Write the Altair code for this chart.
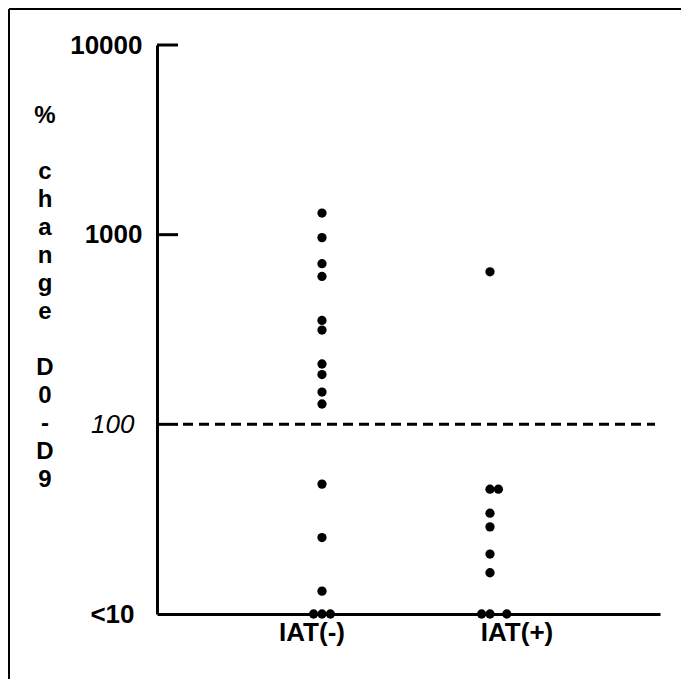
import altair as alt
import pandas as pd

# ---- data ----
groups = ["IAT(-)", "IAT(+)"]
# values plotted as 10 are the "<10" category on the axis
neg_values = [1300, 965, 703, 602, 353, 314, 208, 183, 148, 128, 48.4, 25.3, 13.2, 10, 10, 10]
neg_slot = [0, 0, 0, 0, 0, 0, 0, 0, 0, 0, 0, 0, 0, -1, 0, 1]
pos_values = [637, 45.5, 45.5, 34, 28.8, 20.7, 16.5, 10, 10, 10]
pos_slot = [0, 0, 1, 0, 0, 0, 0, -1, 0, 2]
tick_values = [10, 100, 1000, 10000]
inner_ticks = [100, 1000, 10000]
reference_level = [100]
title_blocks = [["%"], ["c", "h", "a", "n", "g", "e"], ["D", "0", "-", "D", "9"]]

points = pd.DataFrame({
    "group": [groups[0]] * len(neg_values) + [groups[1]] * len(pos_values),
    "value": neg_values + pos_values,
    "slot": neg_slot + pos_slot,
})
ticks_df = pd.DataFrame({"value": inner_ticks})
ref_df = pd.DataFrame({"value": reference_level})

W, H = 503, 569
FONT = "Liberation Sans"
LINE_H = 28

yscale = alt.Scale(type="log", domain=[10, 10000], nice=False)

dots = alt.Chart(points).mark_circle(size=86, color="black", opacity=1).encode(
    x=alt.X("group:N", sort=groups,
            scale=alt.Scale(paddingInner=0, paddingOuter=0.497, align=0.485),
            axis=alt.Axis(title=None, domain=True, domainColor="black", domainWidth=3,
                          ticks=False, labelAngle=0, labelFont=FONT, labelFontSize=26,
                          labelFontWeight="bold", labelColor="black", labelPadding=5,
                          labelOffset=alt.condition("datum.value == 'IAT(-)'", alt.value(-10), alt.value(27)))),
    xOffset=alt.XOffset("slot:Q", scale=alt.Scale(domain=[-10, 10], range=[0, 168])),
    y=alt.Y("value:Q", scale=yscale, title=None,
            axis=alt.Axis(values=tick_values, ticks=False, grid=False,
                          domain=True, domainColor="black", domainWidth=3,
                          labelExpr="datum.value == 10 ? '<10' : format(datum.value, 'd')",
                          labelFont=FONT, labelFontSize=26, labelColor="black",
                          labelFontWeight=alt.condition("datum.value == 100", alt.value("normal"), alt.value("bold")),
                          labelFontStyle=alt.condition("datum.value == 100", alt.value("italic"), alt.value("normal")),
                          labelPadding=alt.condition("datum.value <= 100", alt.value(23), alt.value(15)))),
)

tick_rules = alt.Chart(ticks_df).mark_rule(color="black", strokeWidth=3).encode(
    y=alt.Y("value:Q", scale=yscale, title=None),
    x=alt.value(0), x2=alt.value(21),
)

ref_line = alt.Chart(ref_df).mark_rule(color="black", strokeWidth=3, strokeDash=[10, 6]).encode(
    y=alt.Y("value:Q", scale=yscale, title=None),
    x=alt.value(26), x2=alt.value(498),
)

# vertical stacked y-axis title, three blocks separated by a blank line
title_layers = []
line_index = 0
for block in title_blocks:
    df = pd.DataFrame({"text": ["\n".join(block)]})
    title_layers.append(
        alt.Chart(df).mark_text(
            align="center", baseline="alphabetic", lineBreak="\n", lineHeight=LINE_H,
            font=FONT, fontSize=24, fontWeight="bold", color="black",
        ).encode(text="text:N", x=alt.value(-112), y=alt.value(78 + LINE_H * line_index))
    )
    line_index += len(block) + 1

frame_top = alt.Chart(ref_df).mark_rule(color="black", strokeWidth=2).encode(
    x=alt.value(-148), x2=alt.value(530), y=alt.value(-36),
)
frame_left = alt.Chart(ref_df).mark_rule(color="black", strokeWidth=2).encode(
    y=alt.value(-36), y2=alt.value(640), x=alt.value(-148),
)

chart = alt.layer(ref_line, tick_rules, dots, *title_layers, frame_top, frame_left).properties(
    width=W, height=H,
    autosize=alt.AutoSizeParams(type="none"),
    padding={"left": 157, "top": 45, "right": 21, "bottom": 65},
    background="white",
).configure_view(strokeWidth=0)

chart.save("out.html", embed_options={"renderer": "svg", "actions": False})
